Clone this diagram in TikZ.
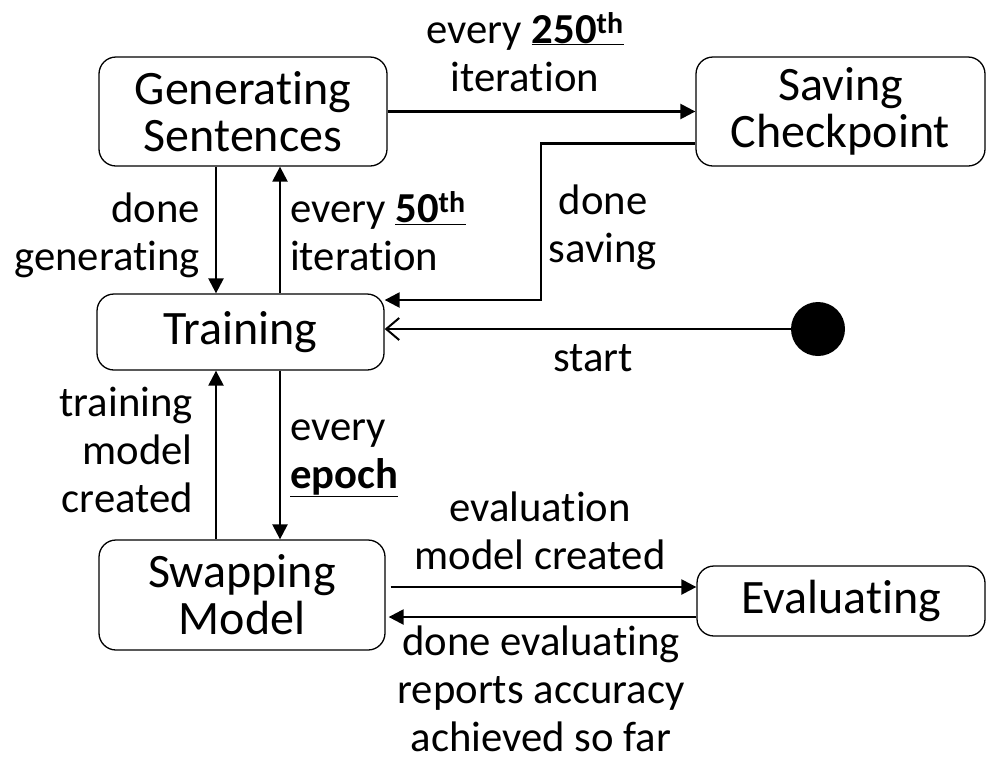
\documentclass[tikz,border=0pt]{standalone}
\usepackage{fontspec}
\setmainfont[Ligatures={NoCommon}]{Carlito}
\usetikzlibrary{arrows.meta,calc}
\tikzset{
  state/.style={draw, line width=1.3pt, rounded corners=17pt, align=center,
    inner sep=0pt, font=\fontsize{48}{47}\selectfont},
  lbl/.style={align=center, inner sep=0pt, font=\fontsize{42.7}{48}\selectfont},
  arr/.style={line width=2.4pt, -{Triangle[length=15pt,width=15pt]}},
  openarr/.style={line width=2pt, -{Straight Barb[length=13pt,width=22pt,line width=2pt]}},
}
\newcommand{\ul}[1]{\underline{\textbf{#1}}}
\newcommand{\lsp}[1]{\fontsize{42.7}{#1}\selectfont}
\begin{document}
\begin{tikzpicture}[x=1pt,y=-1pt]
\useasboundingbox (0,0) rectangle (990,764);

% states
\node[state, minimum width=288pt, minimum height=109pt] (gen)  at (243,111.5) {Generating\\Sentences};
\node[state, minimum width=289pt, minimum height=109pt] (save) at (840.5,111.5) {Saving\\Checkpoint};
\node[state, minimum width=287pt, minimum height=76pt]  (train) at (240.5,332) {Training};
\node[state, minimum width=286pt, minimum height=110pt] (swap) at (242,595) {Swapping\\Model};
\node[state, minimum width=288pt, minimum height=70pt]  (eval) at (841,601) {Evaluating};
\node[circle, fill, minimum size=54pt, inner sep=0pt] (dot) at (818,329) {};

% routing guides
\coordinate (dl) at (216,0);
\coordinate (ul) at (280,0);
\coordinate (bend) at (541,0);
\coordinate (r1) at (0,587);
\coordinate (r2) at (0,617);

% transitions
\draw[arr] (gen.east) -- (save.west);
\path ([yshift=-32pt]save.west) coordinate (sv) ([yshift=32pt]train.east) coordinate (tr);
\draw[arr] (sv) -- (sv -| bend) -- (tr -| bend) -- (tr);
\draw[arr] (gen.south -| dl) -- (train.north -| dl);
\draw[arr] (train.north -| ul) -- (gen.south -| ul);
\draw[openarr] (dot.west) -- (dot.west -| train.east);
\draw[arr] (train.south -| ul) -- (swap.north -| ul);
\draw[arr] (swap.north -| dl) -- (train.south -| dl);
\draw[arr, shorten <=5pt] (swap.east |- r1) -- (eval.west |- r1);
\draw[arr, shorten >=3pt] (eval.west |- r2) -- (swap.east |- r2);

% transition labels (anchored at the baseline of their last line)
\node[lbl, anchor=base] (l250) at (525,91) {\lsp{52}every \ul{250\textsuperscript{th}}\\iteration};
\node[lbl, align=right, anchor=base east] (ldg) at (200,270) {\lsp{47}done\\generating};
\node[lbl, align=left, anchor=base west] (l50) at (290,270) {\lsp{46}every \ul{50\textsuperscript{th}}\\iteration};
\node[lbl, anchor=base] (lds) at (603,262) {\lsp{52}done\\saving};
\node[lbl, anchor=base] (lst) at (593,371) {start};
\node[lbl, align=right, anchor=base east] (ltm) at (193,512) {\lsp{50}training\\model\\created};
\node[lbl, align=left, anchor=base west] (lep) at (290,488) {\lsp{50}every\\\ul{epoch}};
\node[lbl, anchor=base] (lem) at (540,569) {\lsp{45}evaluation\\model created};
\node[lbl, anchor=base] (lde) at (541,751) {\lsp{46}done evaluating\\reports accuracy\\achieved so far};
\end{tikzpicture}
\end{document}
